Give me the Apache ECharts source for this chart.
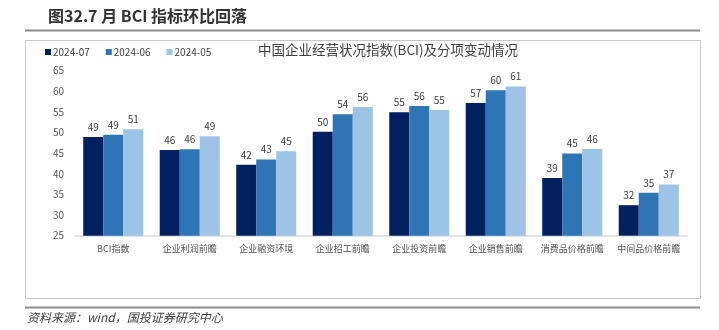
<!DOCTYPE html>
<html>
<head>
<meta charset="utf-8">
<script src="https://cdn.jsdelivr.net/npm/echarts@6/dist/echarts.min.js"></script>
<style>
  html, body { margin: 0; padding: 0; background: #ffffff; }
  #chart { width: 719px; height: 330px; }
</style>
</head>
<body>
<div id="chart"></div>
<script>
// BCI sub-index categories
const categories = ['BCI指数', '企业利润前瞻', '企业融资环境', '企业招工前瞻', '企业投资前瞻', '企业销售前瞻', '消费品价格前瞻', '中间品价格前瞻'];
// Monthly readings
const jul2024 = [48.9, 45.8, 42.2, 50.2, 54.9, 57.2, 39.0, 32.4];
const jun2024 = [49.45, 45.95, 43.45, 54.45, 56.45, 60.25, 44.9, 35.4];
const may2024 = [50.8, 49.1, 45.45, 56.2, 55.45, 61.2, 46.0, 37.4];
const seriesNames = ['2024-07', '2024-06', '2024-05'];
const seriesColors = ['#002060', '#2E75B6', '#9DC3E6'];
const yTicks = { min: 25, max: 65, step: 5 };

const cjk = '"Noto Sans CJK SC", "Noto Sans", sans-serif';
const values = [jul2024, jun2024, may2024];

const chart = echarts.init(document.getElementById('chart'), null, { renderer: 'canvas' });

chart.setOption({
  backgroundColor: '#ffffff',
  animation: false,
  textStyle: { fontFamily: cjk },
  graphic: [
    {
      type: 'text', left: 48, top: 8,
      style: { text: '图32.7 月 BCI 指标环比回落', fontSize: 16, fontWeight: 'bold', fill: '#333333', fontFamily: cjk }
    },
    {
      type: 'line', shape: { x1: 25, y1: 30.5, x2: 700, y2: 30.5 },
      style: { stroke: '#8c8c8c', lineWidth: 2 }
    },
    {
      type: 'rect', shape: { x: 25.5, y: 40.5, width: 675, height: 258 },
      style: { fill: 'none', stroke: '#c8c8c8', lineWidth: 1 }
    },
    {
      type: 'line', shape: { x1: 25, y1: 307.5, x2: 700, y2: 307.5 },
      style: { stroke: '#8c8c8c', lineWidth: 2 }
    },
    {
      type: 'text', left: 27, top: 311,
      style: { text: '资料来源：wind，国投证券研究中心', fontSize: 12, fontStyle: 'italic', fill: '#404040', fontFamily: cjk }
    }
  ],
  title: {
    text: '中国企业经营状况指数(BCI)及分项变动情况',
    left: 383, top: 38, textAlign: 'center',
    textStyle: { fontSize: 13.5, fontWeight: 'normal', color: '#404040', fontFamily: cjk }
  },
  legend: {
    left: 40, top: 42,
    itemWidth: 6, itemHeight: 6, itemGap: 16,
    icon: 'rect',
    textStyle: { fontSize: 10, color: '#404040', padding: [0, 0, 0, -3] },
    data: seriesNames
  },
  grid: { left: 75, right: 32, top: 70.7, bottom: 94.3 },
  xAxis: {
    type: 'category',
    data: categories,
    axisLine: { lineStyle: { color: '#d9d9d9', width: 1.5 } },
    axisTick: { show: false },
    axisLabel: { fontSize: 9, color: '#505050', margin: 8, interval: 0 }
  },
  yAxis: {
    type: 'value',
    min: yTicks.min, max: yTicks.max, interval: yTicks.step,
    axisLine: { show: false },
    axisTick: { show: false },
    splitLine: { show: false },
    axisLabel: { fontSize: 10, color: '#595959', margin: 11 }
  },
  series: seriesNames.map((name, i) => ({
    name: name,
    type: 'bar',
    data: values[i],
    barGap: '0%',
    barCategoryGap: '21.5%',
    itemStyle: { color: seriesColors[i] },
    label: {
      show: true, position: 'top', distance: 5,
      fontSize: 10, color: '#404040',
      formatter: p => Math.round(p.value)
    }
  }))
});
</script>
</body>
</html>
